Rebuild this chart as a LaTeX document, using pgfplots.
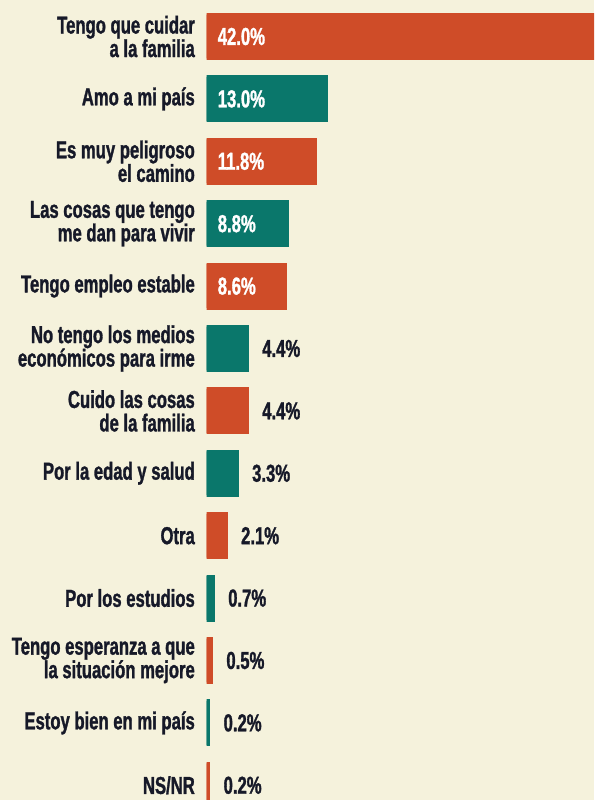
\documentclass[border=0pt]{standalone}
\usepackage{pgfplots}
\pgfplotsset{compat=1.18}
\usepackage{fontspec}
\newfontfamily\cond{Liberation Sans}[FakeStretch=0.68, BoldFeatures={FakeBold=1.2}]
\definecolor{fondo}{RGB}{245,242,220}
\definecolor{naranja}{RGB}{207,76,40}
\definecolor{verde}{RGB}{10,119,107}
\definecolor{tinta}{RGB}{22,25,40}
\newcommand{\lblfont}{\cond\bfseries\fontsize{24.5}{23.5}\selectfont}
\newcommand{\valfont}{\cond\bfseries\fontsize{24.5}{24.5}\selectfont}

\begin{document}
\begin{tikzpicture}
\useasboundingbox (0pt,0pt) rectangle (594pt,800pt);
\clip (0pt,0pt) rectangle (594pt,800pt);
\fill[fondo] (0pt,0pt) rectangle (594pt,800pt);
\begin{axis}[
  at={(206.6pt,0pt)}, anchor=south west, scale only axis,
  width=387.4pt, height=800pt,
  xmin=0, xmax=42.11, ymin=-0.585, ymax=12.236, y dir=reverse,
  bar width=43.8pt, bar shift=0pt,
  axis line style={draw=none}, xtick=\empty, ytick={0,...,12}, major tick length=0pt,
  yticklabels={{Tengo que cuidar\\a la familia}, {Amo a mi país}, {Es muy peligroso\\el camino},
    {Las cosas que tengo\\me dan para vivir}, {Tengo empleo estable},
    {No tengo los medios\\económicos para irme}, {Cuido las cosas\\de la familia},
    {Por la edad y salud}, {Otra}, {Por los estudios},
    {Tengo esperanza a que\\la situación mejore}, {Estoy bien en mi país}, {NS/NR}},
  yticklabel style={anchor=east, inner sep=0pt, xshift=-11.6pt, align=right, font=\lblfont, text=tinta},
]
% barras naranjas
\addplot[xbar, fill=naranja, draw=naranja, line width=3.2pt] coordinates {
  (42.0,0) (11.8,2) (8.6,4) (4.4,6) (2.1,8) (0.5,10) (0.2,12)};
% barras verdes
\addplot[xbar, fill=verde, draw=verde, line width=3.2pt] coordinates {
  (13.0,1) (8.8,3) (4.4,5) (3.3,7) (0.7,9) (0.2,11)};
% valores dentro de la barra
\addplot[only marks, mark=none, point meta=explicit symbolic, nodes near coords,
  nodes near coords style={anchor=west, xshift=11pt, inner sep=0pt, text=white, font=\valfont}]
  coordinates {(0,0) [42.0\%] (0,1) [13.0\%] (0,2) [11.8\%] (0,3) [8.8\%] (0,4) [8.6\%]};
% valores fuera de la barra
\addplot[only marks, mark=none, point meta=explicit symbolic, nodes near coords,
  nodes near coords style={anchor=west, xshift=15pt, inner sep=0pt, text=tinta, font=\valfont}]
  coordinates {(4.4,5) [4.4\%] (4.4,6) [4.4\%] (3.3,7) [3.3\%] (2.1,8) [2.1\%]
    (0.7,9) [0.7\%] (0.5,10) [0.5\%] (0.2,11) [0.2\%] (0.2,12) [0.2\%]};
\end{axis}
\end{tikzpicture}
\end{document}
